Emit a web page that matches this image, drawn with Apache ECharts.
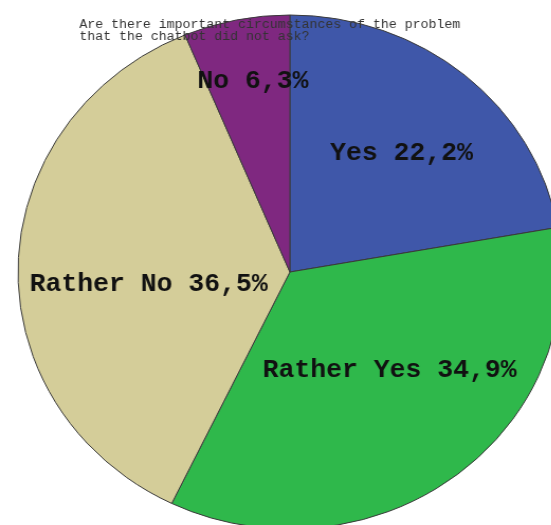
<!DOCTYPE html>
<html>
<head>
<meta charset="utf-8">
<script src="https://cdn.jsdelivr.net/npm/echarts@6.0.0/dist/echarts.min.js"></script>
<style>
  html, body { margin: 0; padding: 0; background: #fff; overflow: hidden; }
  /* the original figure is a little wider than tall, so stretch the drawing horizontally */
  #chart { width: 521px; height: 525px; transform: scaleX(1.058); transform-origin: 0 0; }
</style>
</head>
<body>
<div id="chart"></div>
<script>
// --- Data ---
const categories = ['Yes', 'Rather Yes', 'Rather No', 'No'];
const percents = [22.2, 34.9, 36.5, 6.3];
const sliceColors = ['#3f57a9', '#2fb84b', '#d4cd99', '#7f2880'];
// nudges so labels sit where the original has them
const labelOffsets = [[21, -18], [15, -6], [-2, 16], [-9, -61]];

const titleText = 'Are there important circumstances of the problem\nthat the chatbot did not ask?';

const chart = echarts.init(document.getElementById('chart'));

const pieData = categories.map((name, i) => ({
    name: name,
    value: percents[i],
    itemStyle: { color: sliceColors[i] },
    label: { offset: labelOffsets[i] }
}));

chart.setOption({
    animation: false,
    title: {
        text: titleText,
        left: 75,
        top: 19,
        padding: 0,
        textStyle: {
            fontFamily: 'Liberation Mono',
            fontSize: 12.5,
            fontWeight: 'normal',
            color: '#333',
            lineHeight: 12
        }
    },
    series: [{
        type: 'pie',
        center: [274, 272],
        radius: 257,
        startAngle: 90,
        clockwise: true,
        avoidLabelOverlap: false,
        itemStyle: { borderColor: '#3a3a3a', borderWidth: 1 },
        label: {
            position: 'inside',
            fontFamily: 'Liberation Mono',
            fontWeight: 'bold',
            fontSize: 25,
            color: '#111',
            formatter: (p) => `${p.name} ${p.value.toFixed(1).replace('.', ',')}%`
        },
        labelLine: { show: false },
        emphasis: { disabled: true },
        data: pieData
    }]
});
</script>
</body>
</html>
